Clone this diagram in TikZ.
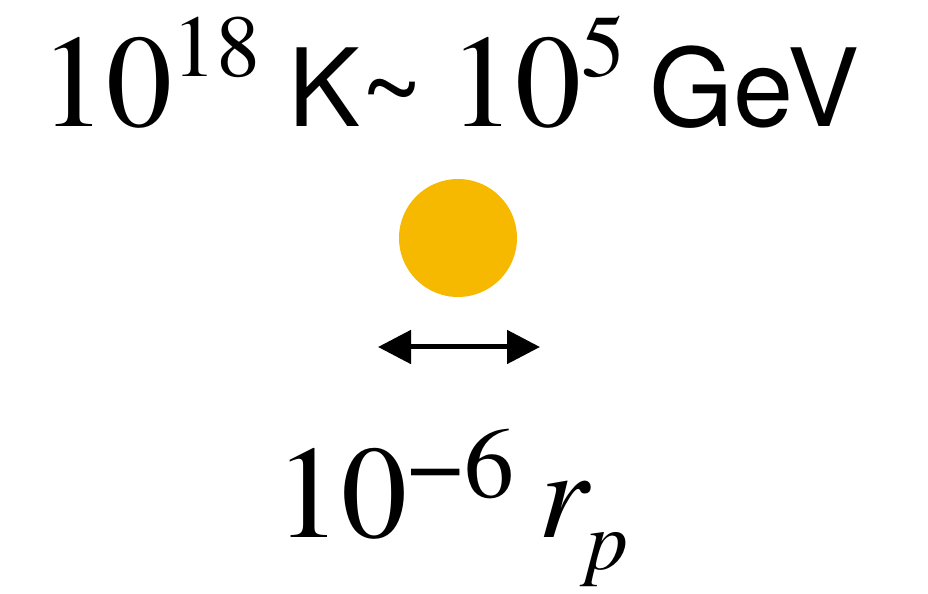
\documentclass[tikz,border=0pt]{standalone}
\usepackage{fontspec}
\setmainfont{texgyretermes}[Extension=.otf, UprightFont=*-regular, ItalicFont=*-italic, BoldFont=*-bold]
\setsansfont{TeX Gyre Heros}
\usetikzlibrary{arrows.meta}
\definecolor{blobyellow}{RGB}{246,185,0}
\tikzset{
  bigtext/.style={inner sep=0pt, anchor=base, text=black},
  blob/.style={circle, fill=blobyellow, draw=none, minimum size=59pt, inner sep=0pt},
  span/.style={line width=2.5pt, {Triangle[length=16.5pt, width=16.5pt]}-{Triangle[length=16.5pt, width=16.5pt]}},
}
\newcommand{\serifbig}{\rmfamily\fontsize{66}{70}\selectfont}
\newcommand{\serifsup}{\rmfamily\fontsize{44}{50}\selectfont}
\newcommand{\sansunit}{\sffamily\fontsize{54}{60}\selectfont}

\begin{document}
\begin{tikzpicture}[x=0.5pt, y=0.5pt]
\useasboundingbox (0,0) rectangle (928,594);

%% --- temperature / energy line ---
\node[bigtext] (temp) at (450,467)
  {{\serifbig 10\raisebox{25pt}{\serifsup 18}}\hspace{14pt}{\sansunit K\textasciitilde}\hspace{13pt}%
   {\serifbig 10\raisebox{25pt}{\serifsup 5}}\hspace{12pt}{\sansunit GeV}};

%% --- the hot blob ---
\node[blob] (dot) at (458,356) {};

%% --- size arrow ---
\coordinate (spanL) at (378,247);
\coordinate (spanR) at (540,247);
\draw[span] (spanL) -- (spanR);

%% --- size label ---
\node[bigtext] (size) at (452,56)
  {{\serifbig 10\raisebox{20pt}{\fontsize{50}{56}\selectfont −6}}\hspace{12pt}%
   {\fontsize{64}{70}\selectfont\itshape r\kern-1pt\raisebox{-16pt}{\fontsize{42}{50}\selectfont p}}};

\end{tikzpicture}
\end{document}
